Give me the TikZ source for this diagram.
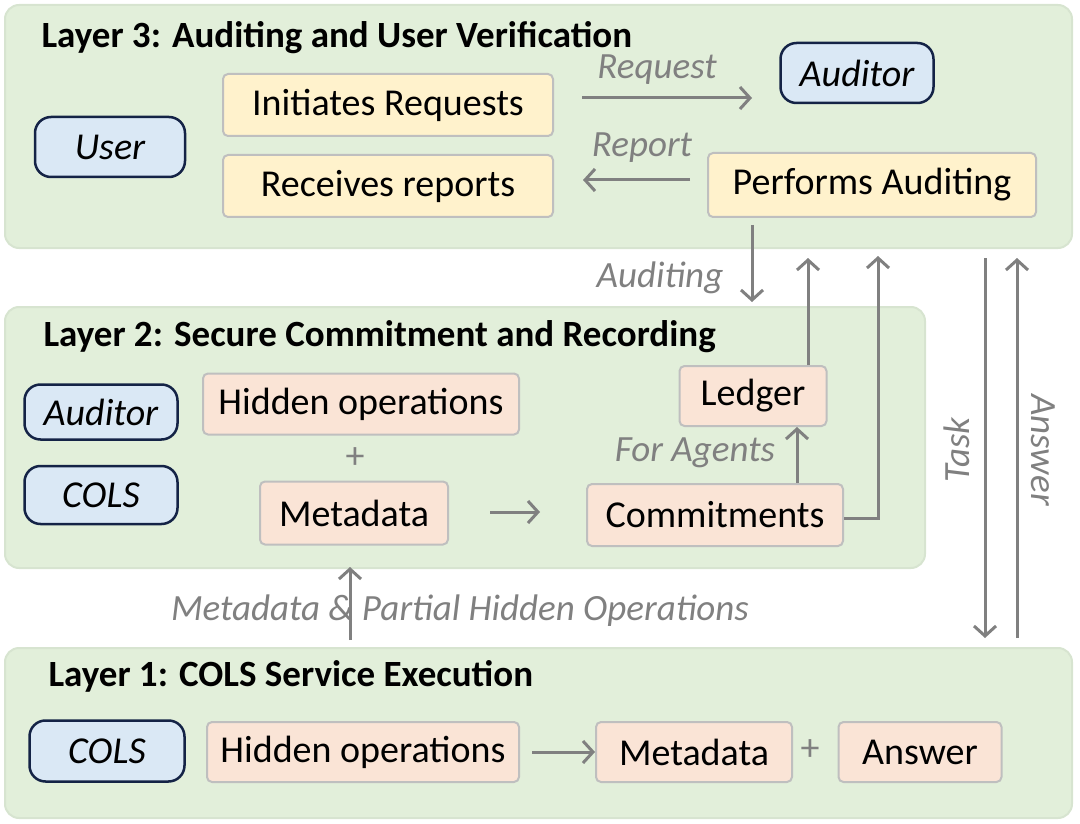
\documentclass[tikz,border=0pt]{standalone}
\usepackage{fontspec}
\setmainfont{Carlito}
\usetikzlibrary{arrows.meta}
\definecolor{lg}{RGB}{226,239,218}
\definecolor{lgb}{RGB}{215,228,208}
\definecolor{yel}{RGB}{255,242,204}
\definecolor{pk}{RGB}{250,228,214}
\definecolor{bl}{RGB}{218,232,245}
\definecolor{nv}{RGB}{20,35,70}
\definecolor{gr}{RGB}{128,128,128}
\begin{document}
\begin{tikzpicture}[x=1pt,y=-1pt,
 layer/.style={draw=lgb,line width=2pt,fill=lg,rounded corners=14pt},
 ttl/.style={anchor=west,font=\fontsize{37}{40}\selectfont\bfseries},
 box/.style={draw=gr!50,line width=2pt,rounded corners=5pt,font=\fontsize{38}{40}\selectfont,inner sep=0pt},
 yb/.style={box,fill=yel},
 pb/.style={box,fill=pk},
 actor/.style={draw=nv,line width=2.5pt,fill=bl,rounded corners=16pt,inner sep=0pt,font=\fontsize{38}{40}\selectfont\itshape},
 arr/.style={draw=gr,line width=3pt,-{Straight Barb[length=10pt,width=22pt]}},
 lbl/.style={text=gr,font=\fontsize{37}{40}\selectfont\itshape}]
\useasboundingbox (0,0) rectangle (1080,824);
\draw[layer] (5,5) rectangle (1072,248);
\draw[layer] (5,307) rectangle (925,568);
\draw[layer] (5,648) rectangle (1072,818);
\node[ttl] (t3) at (38,38) {Layer 3: Auditing and User Verification};
\node[ttl] (t2) at (40,337) {Layer 2: Secure Commitment and Recording};
\node[ttl] (t1) at (45,676) {Layer 1: COLS Service Execution};
% layer 3
\node[yb,minimum width=330pt,minimum height=62pt] (ir) at (388,105) {Initiates Requests};
\node[yb,minimum width=330pt,minimum height=62pt] (rr) at (388,186) {Receives reports};
\node[actor,minimum width=153pt,minimum height=60pt] (aud3) at (857,73) {Auditor};
\node[actor,minimum width=150pt,minimum height=60pt] (user) at (110,147) {User};
\node[yb,minimum width=328pt,minimum height=64pt] (pa) at (872,185) {Performs Auditing};
% layer 2
\node[actor,minimum width=153pt,minimum height=55pt] (aud2) at (101,412) {Auditor};
\node[actor,minimum width=153pt,minimum height=58pt] (cols2) at (101,495) {COLS};
\node[pb,minimum width=316pt,minimum height=61pt] (ho2) at (361,404) {Hidden operations};
\node[font=\fontsize{38}{40}\selectfont,text=gr] (plus2) at (355,458) {+};
\node[pb,minimum width=188pt,minimum height=63pt] (md2) at (354,513) {Metadata};
\node[pb,minimum width=256pt,minimum height=62pt] (com) at (715,515) {Commitments};
\node[pb,minimum width=147pt,minimum height=60pt] (led) at (753,396) {Ledger};
\coordinate (m1) at (490,512); \coordinate (m2) at (540,512);
\draw[arr] (m1) -- (m2);
\draw[arr] (com.north -| 797,0) -- (led.south -| 797,0);
\node[lbl] (fa) at (695,453) {For Agents};
% layer 1
\node[actor,minimum width=155pt,minimum height=61pt] (cols1) at (107,751) {COLS};
\node[pb,minimum width=312pt,minimum height=60pt] (ho1) at (363,752) {Hidden operations};
\node[pb,minimum width=196pt,minimum height=60pt] (md1) at (694,752) {Metadata};
\node[font=\fontsize{38}{40}\selectfont,text=gr] (plus1) at (810,750) {+};
\node[pb,minimum width=163pt,minimum height=60pt] (ans) at (920,752) {Answer};
\draw[arr] (ho1.east) ++(12,0) -- (md1.west);
% cross-layer arrows
\draw[arr] (582,98) -- (752,98);
\node[lbl] (ql) at (657,70) {Request};
\draw[arr] (690,180) -- (583,180);
\node[lbl] (rl) at (642,148) {Report};
\draw[arr] (752,225) -- (752,302);
\node[lbl] (al) at (660,278) {Auditing};
\draw[arr] (led.north -| 808,0) -- (808,258);
\draw[line width=3pt,draw=gr] (com.east |- 0,518) -- (878,518) -- (878,300);
\draw[arr] (878,519.5) -- (878,256);
\coordinate (tk1) at (985,258); \coordinate (tk2) at (985,638);
\draw[arr] (tk1) -- (tk2);
\coordinate (an1) at (1017,638); \coordinate (an2) at (1017,258);
\draw[arr] (an1) -- (an2);
\node[lbl,rotate=90] (tl) at (957,450) {Task};
\node[lbl,rotate=-90] (anl) at (1043,450) {Answer};
\draw[arr] (350,640) -- (350,567);
\node[lbl] (mp) at (460,611) {Metadata \& Partial Hidden Operations};
\end{tikzpicture}
\end{document}
